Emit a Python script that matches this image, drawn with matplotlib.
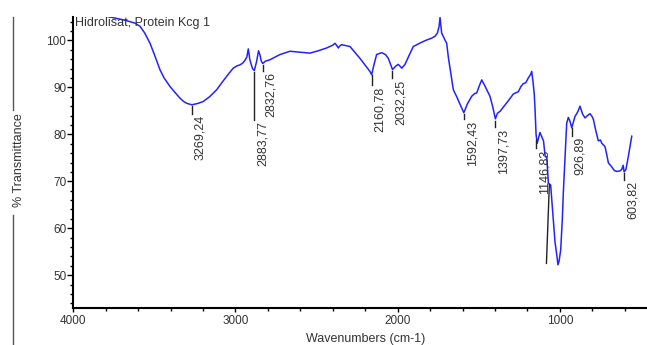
import matplotlib
matplotlib.use("Agg")
import matplotlib.pyplot as plt
from matplotlib.ticker import MultipleLocator, FixedLocator
import matplotlib.transforms as mtransforms

plt.rcParams['font.family'] = ['Liberation Sans', 'DejaVu Sans']

# ---- spectrum data (wavenumber cm-1, % transmittance) ----
wavenumber = [4000, 3800, 3720, 3680, 3650, 3620, 3588, 3560, 3527, 3500, 3466, 3440, 3404,
              3370, 3342, 3320, 3300, 3269, 3230, 3199, 3160,
              3116, 3080, 3040, 3014, 2990, 2972, 2955, 2941, 2930, 2921, 2912, 2906, 2895, 2884,
              2870, 2858, 2850, 2840, 2832, 2815, 2787, 2726, 2664, 2600, 2541, 2490, 2438,
              2400, 2387, 2375, 2366, 2355, 2345, 2320, 2294, 2233, 2171, 2160.8, 2145, 2130,
              2099, 2075, 2058, 2040, 2032, 2010, 1996, 1985, 1975, 1960, 1955, 1930, 1904,
              1860, 1821, 1790, 1770, 1755, 1745, 1739, 1733, 1729, 1710, 1698, 1688, 1675,
              1667, 1657, 1636, 1610, 1592.4, 1570, 1544, 1525, 1513, 1495, 1482, 1465, 1451,
              1431, 1415, 1397.7, 1385, 1369, 1328, 1300, 1287, 1256, 1240, 1226, 1210, 1195,
              1180, 1174, 1165, 1158, 1153, 1147, 1140, 1130, 1123, 1110, 1101, 1091, 1081,
              1071, 1057, 1041, 1030, 1020, 1012, 1005, 995, 985, 979, 969, 958, 948, 938,
              927, 915, 907, 890, 876, 860, 845, 830, 814, 800, 793, 780, 763, 750, 742, 722,
              710, 701, 681, 665, 650, 630, 619, 610, 604, 593, 578, 565, 557]
transmittance = [105.5, 105.2, 104.6, 104.3, 104.0, 103.7, 103.0, 101.6, 99.4, 97.0, 93.8, 92.0, 90.2,
                 88.8, 87.7, 87.0, 86.6, 86.3, 86.6, 87.0, 88.0,
                 89.5, 91.2, 93.0, 94.1, 94.6, 94.8, 95.2, 95.8, 96.5, 98.2, 96.0, 95.2, 94.0, 93.6,
                 95.5, 97.8, 97.0, 95.5, 95.1, 95.6, 95.9, 97.0, 97.7, 97.5, 97.3, 97.8, 98.4,
                 99.0, 99.4, 98.9, 98.4, 98.9, 99.1, 98.9, 98.7, 96.2, 93.4, 92.7, 95.0, 97.0,
                 97.4, 97.0, 96.2, 94.5, 93.8, 94.6, 94.9, 94.5, 94.1, 94.7, 94.9, 96.8, 98.7,
                 99.5, 100.1, 100.5, 100.9, 101.6, 103.0, 104.9, 103.0, 101.6, 100.2, 99.4, 96.5, 93.5,
                 91.6, 89.5, 88.0, 86.0, 84.6, 86.5, 88.1, 88.7, 88.8, 90.5, 91.6, 90.5, 89.5,
                 88.1, 86.0, 83.3, 84.5, 84.9, 86.7, 88.0, 88.6, 89.1, 90.2, 90.8, 91.0, 92.0,
                 92.8, 93.4, 91.0, 88.5, 85.2, 80.0, 78.1, 79.5, 80.4, 79.3, 78.6, 75.3, 75.2,
                 69.6, 69.2, 61.8, 57.0, 54.5, 52.2, 53.0, 55.4, 62.0, 67.5, 74.6, 82.4, 83.6, 82.8,
                 81.4, 82.8, 83.8, 84.8, 86.0, 84.3, 83.5, 84.0, 84.4, 83.7, 83.1, 81.0, 78.6, 78.8, 78.1, 77.4,
                 75.5, 73.9, 73.1, 72.3, 72.1, 72.2, 72.5, 73.4, 72.0, 72.5, 75.3, 78.0, 79.6]

# ---- peak labels ----
peak_wn = [3269.24, 2883.77, 2832.76, 2160.78, 2032.25, 1592.43, 1397.73, 1146.83, 926.89, 603.82]
peak_labels = ["3269,24", "2883,77", "2832,76", "2160,78", "2032,25",
               "1592,43", "1397,73", "1146,83", "926,89", "603,82"]
peak_top = [86.0, 93.2, 94.8, 92.6, 93.6, 84.3, 82.9, 78.9, 81.4, 71.8]
peak_bottom = [84.4, 83.1, 93.6, 90.5, 91.9, 83.2, 81.5, 77.1, 79.7, 70.3]

# extra unlabeled marker line
extra_wn = [1065, 1083]
extra_T = [69.3, 52.5]

title = "Hidrolisat, Protein Kcg 1"
xlabel = "Wavenumbers (cm-1)"
ylabel = "% Transmittance"

W, H = 647, 345
fig = plt.figure(figsize=(W / 100, H / 100), dpi=100)
ax_left = 73.3 / W
ax_bottom = 1 - 308 / H
ax_top = 1 - 17 / H
ax = fig.add_axes([ax_left, ax_bottom, 1 - ax_left, ax_top - ax_bottom])

ax.plot(wavenumber, transmittance, color='#2222ff', lw=1.1, solid_joinstyle='round')

ax.set_xlim(4000, 463)
ax.set_ylim(43, 105)

for s in ['top', 'right']:
    ax.spines[s].set_visible(False)
for s in ['left', 'bottom']:
    ax.spines[s].set_linewidth(1.5)

ax.xaxis.set_major_locator(FixedLocator([4000, 3000, 2000, 1000]))
ax.xaxis.set_minor_locator(MultipleLocator(200))
ax.yaxis.set_major_locator(MultipleLocator(10))
ax.yaxis.set_minor_locator(MultipleLocator(2))
ax.tick_params(axis='x', which='major', direction='out', length=3, width=1, labelsize=8.5,
               labelcolor='#333333', pad=2)
ax.tick_params(axis='x', which='minor', direction='out', length=2, width=1)
ax.tick_params(axis='y', which='major', direction='out', length=4, width=1, labelsize=8.5,
               labelcolor='#333333', pad=1)
ax.tick_params(axis='y', which='minor', direction='out', length=2.5, width=1)
ax.set_xticklabels(['4000', '3000', '2000', '1000'])

# peak markers and labels
offset = mtransforms.offset_copy(ax.transData, fig=fig, x=2.5, y=-1.5, units='dots')
for wn, lab, t0, t1 in zip(peak_wn, peak_labels, peak_top, peak_bottom):
    ax.plot([wn, wn], [t0, t1], color='#222222', lw=1)
    ax.text(wn, t1, lab, rotation=90, ha='left', va='top', fontsize=9,
            color='#333333', transform=offset)
ax.plot(extra_wn, extra_T, color='#222222', lw=1)

# title clipped at the top of the axes
ax.text(0.003, 0.968, title, transform=ax.transAxes, fontsize=9, color='#333333',
        ha='left', va='baseline', clip_on=True)

fig.text(366 / W, 1 - 339 / H, xlabel, ha='center', va='center', fontsize=9, color='#333333')
fig.text(19 / W, 1 - 160 / H, ylabel, ha='center', va='center', rotation=90, fontsize=9,
         color='#333333')

# frame lines at left
fig.add_artist(plt.Line2D([13.3 / W, 13.3 / W], [1 - 17 / H, 1 - 110 / H], color='#555555', lw=1))
fig.add_artist(plt.Line2D([13.3 / W, 13.3 / W], [1 - 215 / H, 0], color='#555555', lw=1))

fig.savefig('out.png', dpi=100)
